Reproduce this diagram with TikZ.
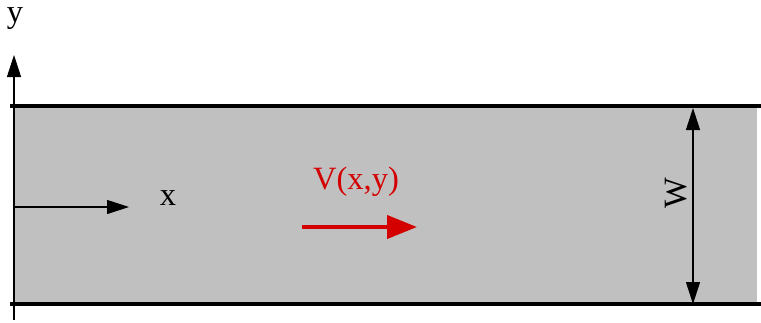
\documentclass[tikz,border=0pt]{standalone}
\usepackage{fontspec}
\setmainfont{Liberation Serif}
\usetikzlibrary{arrows.meta}
\definecolor{flowc}{HTML}{D40000}
\definecolor{fluidc}{HTML}{C0C0C0}

\begin{document}
\begin{tikzpicture}[
  x=0.02cm, y=-0.02cm,
  wall/.style={line width=2pt},
  axis/.style={line width=0.6pt, -{Triangle[length=0.44cm, width=0.28cm]}},
  dim/.style={line width=0.6pt, {Triangle[length=0.44cm, width=0.28cm]}-{Triangle[length=0.44cm, width=0.28cm]}},
  flow/.style={line width=2.3pt, draw=flowc, -{Triangle[length=0.6cm, width=0.46cm]}},
  lbl/.style={font=\fontsize{18.5}{22}\selectfont, inner sep=0pt}
]
  \useasboundingbox (0,0) rectangle (761,322);
  % channel
  \fill[fluidc] (14,106) rectangle (757,304);
  \coordinate (topl) at (10,106);
  \coordinate (topr) at (761,106);
  \coordinate (botl) at (10,304);
  \coordinate (botr) at (761,304);
  \draw[wall] (topl) -- (topr);
  \draw[wall] (botl) -- (botr);

  % axes
  \coordinate (orig) at (14,320);
  \coordinate (ytip) at (14,55);
  \coordinate (xstart) at (14,207);
  \coordinate (xtip) at (129,207);
  \draw[axis] (orig) -- (ytip);
  \draw[axis] (xstart) -- (xtip);
  \node[lbl] (ylbl) at (15,19) {y};
  \node[lbl] (xlbl) at (168,198) {x};

  % velocity
  \coordinate (vstart) at (302,227);
  \coordinate (vtip) at (417,227);
  \draw[flow] (vstart) -- (vtip);
  \node[lbl, text=flowc] (vlbl) at (356,182) {V(x,y)};

  % width
  \coordinate (wtop) at (693,108);
  \coordinate (wbot) at (693,304);
  \draw[dim] (wtop) -- (wbot);
  \node[lbl, rotate=90] (wlbl) at (676,193) {W};
\end{tikzpicture}
\end{document}
